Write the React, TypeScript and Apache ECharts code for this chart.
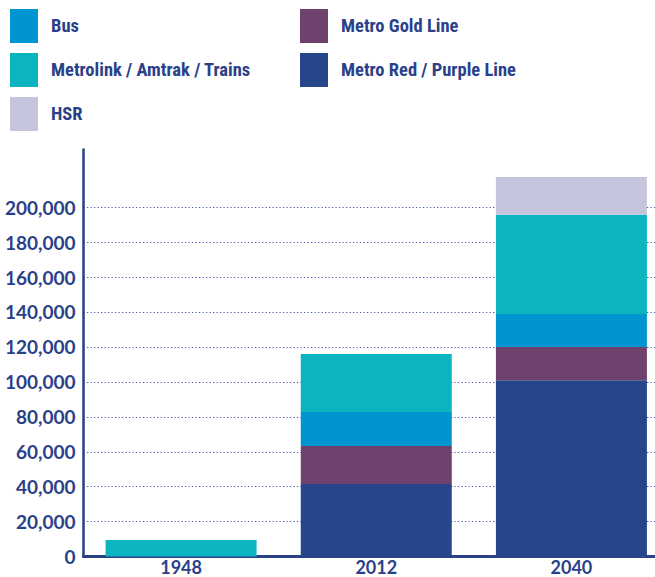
import React, { useEffect, useRef } from "react";
import * as echarts from "echarts";

const years = ["1948", "2012", "2040"];
const redPurple = [0, 41500, 101000];
const goldLine = [0, 21800, 19000];
const bus = [0, 19500, 18900];
const metrolink = [9500, 33200, 56700];
const hsr = [0, 0, 21700];

const NAVY = "#2a4189";
const LEGEND_FONT = "'Roboto Condensed', 'Open Sans Condensed', Lato, sans-serif";
const AXIS_FONT = "Lato, 'Open Sans', sans-serif";

export default function App() {
  const ref = useRef<HTMLDivElement>(null);
  useEffect(() => {
    if (!ref.current) return;
    const chart = echarts.init(ref.current, undefined, { renderer: "svg" });
    const grid = "rgba(50,70,155,0.9)";
    const splitColors = [
      "transparent", grid, grid, grid, grid, grid, grid, grid, grid, grid, grid, "transparent",
    ];
    const legendText = {
      color: NAVY,
      fontSize: 18.5,
      fontWeight: "bold" as const,
      fontFamily: LEGEND_FONT,
      padding: [0, 0, 0, 8],
    };
    const legendBase = {
      orient: "vertical" as const,
      top: 9,
      padding: 0,
      itemWidth: 28,
      itemHeight: 34,
      itemGap: 10,
      icon: "rect",
      textStyle: legendText,
      selectedMode: false,
    };
    const mk = (name: string, data: number[], color: string) => ({
      name,
      type: "bar",
      stack: "total",
      barWidth: 151,
      data: data.map((v) => (v === 0 ? null : v)),
      itemStyle: { color },
    });
    chart.setOption({
      animation: false,
      legend: [
        { ...legendBase, left: 10, data: ["Bus", "Metrolink / Amtrak / Trains", "HSR"] },
        { ...legendBase, left: 300, data: ["Metro Gold Line", "Metro Red / Purple Line"] },
      ],
      grid: { left: 83.5, right: 0, top: 149.5, bottom: 20.4, containLabel: false },
      xAxis: {
        type: "category",
        data: years,
        axisLine: { lineStyle: { color: NAVY, width: 3 } },
        axisTick: { show: false },
        axisLabel: {
          color: NAVY,
          fontSize: 18,
          lineHeight: 15,
          fontWeight: "bold",
          fontFamily: AXIS_FONT,
          margin: 3,
        },
      },
      yAxis: {
        type: "value",
        min: 0,
        max: 233000,
        interval: 20000,
        axisLine: { show: true, lineStyle: { color: NAVY, width: 2.5 } },
        axisTick: { show: false },
        axisLabel: {
          color: NAVY,
          fontSize: 19,
          fontWeight: "bold",
          fontFamily: AXIS_FONT,
          margin: 8,
          formatter: (v: number) => (v <= 200000 ? v.toLocaleString("en-US") : ""),
        },
        splitLine: {
          show: true,
          showMaxLine: false,
          lineStyle: { color: splitColors, type: [1.2, 2.3], width: 1.2 },
        },
      },
      series: [
        mk("Metro Red / Purple Line", redPurple, "#27458b"),
        mk("Metro Gold Line", goldLine, "#6f416d"),
        mk("Bus", bus, "#0094d0"),
        mk("Metrolink / Amtrak / Trains", metrolink, "#0cb4c0"),
        mk("HSR", hsr, "#c5c5de"),
      ],
    });
    return () => chart.dispose();
  }, []);
  return (
    <div
      style={{
        position: "absolute",
        left: 0,
        top: 0,
        width: 655,
        height: 577,
        overflow: "hidden",
        background: "#fff",
      }}
    >
      <div ref={ref} style={{ width: 669, height: 577 }} />
    </div>
  );
}
